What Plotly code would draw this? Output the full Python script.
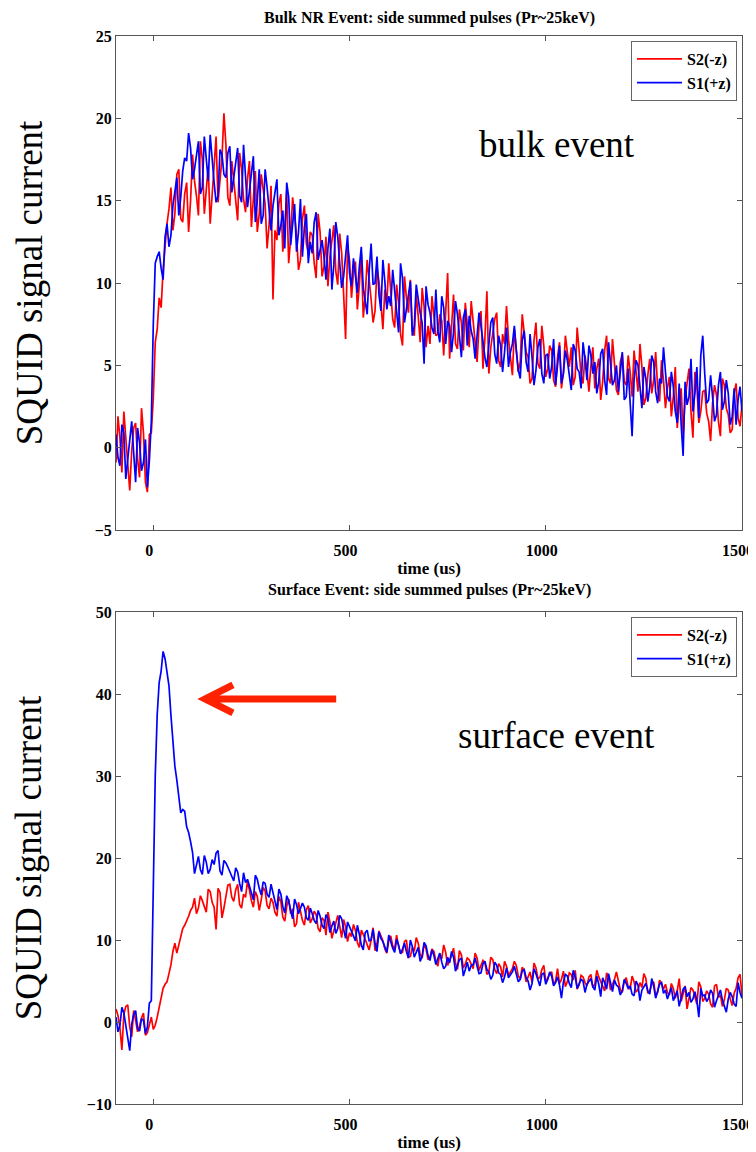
import plotly.graph_objects as go

# ---------------- data ----------------
# sample times (us), one sample every 5 us from -95 to 1500
time_us = list(range(-95, 1501, 5))

# Bulk NR event (top panel)
bulk_s2 = [
    -0.9, 1.9, 0.6, -1.5, 2.2, 0.4, -1.3, -2.6, -0.2, 1.2, 1.5, -0.7, -1.8, 2.4, 0.9, -2.1, -2.7, 0.8, 0.9, 3.0,
    6.4, 7.2, 9.1, 8.5, 10.8, 12.4, 13.6, 14.5, 15.8, 13.2, 14.2, 16.6, 16.9, 13.9, 13.7, 15.4, 16.1, 13.1, 15.0, 17.8,
    16.2, 15.3, 14.1, 18.6, 17.5, 14.2, 15.8, 17.1, 13.6, 15.6, 17.2, 18.9, 14.9, 16.4, 17.6, 20.3, 18.4, 15.2, 14.7, 17.4,
    16.1, 14.6, 13.8, 17.9, 16.9, 15.1, 14.3, 16.3, 17.4, 13.4, 15.2, 16.8, 13.1, 14.2, 16.6, 15.5, 14.8, 12.1, 13.5, 15.9,
    9.0, 13.2, 12.6, 14.8, 15.4, 11.9, 13.3, 15.6, 11.2, 12.7, 15.2, 14.1, 12.9, 10.8, 11.4, 13.9, 14.7, 12.4, 11.8, 13.1,
    12.9, 11.2, 10.3, 14.2, 13.1, 10.4, 11.0, 12.8, 9.8, 11.6, 12.4, 13.5, 10.7, 9.9, 13.0, 11.8, 9.3, 6.6, 12.2, 11.4,
    9.1, 10.6, 11.3, 8.4, 9.9, 11.8, 7.9, 9.2, 11.4, 10.3, 9.0, 7.6, 8.3, 10.9, 10.1, 8.8, 7.2, 9.6, 8.7, 11.2,
    9.4, 7.8, 7.3, 9.9, 8.8, 6.9, 6.2, 10.4, 9.1, 8.2, 10.2, 7.1, 6.8, 9.3, 8.0, 6.4, 9.7, 8.6, 6.1, 7.4,
    6.3, 9.2, 8.0, 6.8, 6.9, 8.1, 7.7, 5.6, 8.2, 10.6, 5.4, 7.2, 9.3, 6.3, 6.0, 8.4, 7.6, 5.9, 8.8, 7.5,
    6.1, 8.9, 7.7, 6.2, 5.2, 7.4, 8.3, 4.8, 6.7, 9.5, 4.5, 6.1, 7.0, 7.8, 8.2, 5.3, 4.9, 6.9, 6.3, 8.6,
    6.6, 5.4, 4.4, 7.2, 6.0, 4.6, 5.2, 8.1, 7.0, 5.8, 5.5, 3.9, 4.2, 6.5, 7.6, 5.1, 4.8, 7.4, 6.2, 4.3,
    4.8, 6.2, 5.9, 4.1, 3.7, 5.5, 6.4, 3.6, 4.6, 6.8, 5.8, 4.9, 6.1, 3.8, 4.3, 7.3, 5.9, 4.4, 3.9, 5.6,
    4.7, 3.4, 5.0, 6.1, 3.6, 4.8, 5.4, 2.9, 4.0, 5.9, 6.8, 4.2, 3.9, 6.6, 5.1, 3.5, 3.2, 5.2, 5.7, 4.0,
    3.8, 5.6, 4.6, 3.1, 5.9, 4.7, 3.4, 6.3, 4.9, 2.6, 3.0, 4.4, 5.4, 3.3, 4.1, 5.8, 3.7, 2.8, 5.3, 4.1,
    2.4, 3.6, 4.3, 1.9, 3.1, 4.9, 1.2, 2.7, 3.6, 0.8, 2.9, 3.9, 4.8, 2.2, 0.6, 4.6, 3.7, 1.5, 2.2, 3.4,
    3.5, 2.1, 1.6, 0.4, 2.7, 3.8, 3.2, 1.6, 0.7, 4.2, 3.8, 2.4, 2.0, 0.9, 1.1, 3.3, 3.9, 1.8, 1.3, 2.6,
]
bulk_s1 = [
    0.8, -0.6, -1.1, 1.4, 0.9, -1.9, -0.7, 0.7, 1.6, -0.3, -2.1, 1.2, 0.3, -1.4, -0.9, 0.5, -2.4, -0.8, 1.6, 7.5,
    11.2, 11.6, 11.9, 10.9, 10.2, 12.8, 13.6, 12.2, 12.9, 14.7, 15.7, 16.4, 14.1, 15.2, 16.8, 17.6, 17.4, 19.1, 18.2, 16.3,
    16.9, 17.8, 18.6, 15.4, 15.8, 18.9, 17.5, 16.2, 19.0, 17.3, 16.1, 14.9, 15.3, 18.1, 17.8, 16.6, 16.4, 17.9, 18.3, 15.5,
    16.4, 17.2, 18.2, 15.3, 14.9, 18.4, 16.8, 14.6, 15.6, 16.5, 17.7, 13.7, 15.0, 16.9, 13.6, 14.1, 16.9, 15.8, 14.4, 13.2,
    14.7, 15.6, 16.3, 12.9, 13.5, 14.4, 12.1, 16.1, 15.2, 12.3, 13.8, 14.8, 11.9, 13.1, 15.1, 11.6, 13.4, 14.2, 11.2, 12.5,
    11.8, 13.7, 14.3, 11.4, 12.0, 12.6, 11.6, 10.2, 12.1, 13.3, 9.6, 11.1, 13.7, 12.8, 11.2, 9.7, 10.4, 11.9, 12.9, 10.6,
    9.8, 11.5, 10.6, 9.4, 11.0, 12.2, 9.7, 8.8, 8.1, 10.7, 12.4, 9.9, 10.0, 11.6, 9.3, 8.3, 11.4, 10.1, 8.4, 9.2,
    8.6, 10.8, 9.5, 8.1, 7.0, 11.2, 10.3, 7.6, 8.4, 9.4, 10.1, 6.8, 7.4, 9.9, 9.0, 8.2, 7.6, 5.1, 9.8, 8.7,
    8.2, 7.3, 6.9, 9.6, 7.1, 6.4, 9.2, 8.5, 6.3, 7.7, 7.4, 5.8, 7.0, 8.9, 8.1, 6.6, 5.5, 7.9, 8.4, 6.2,
    8.0, 7.1, 6.6, 5.4, 6.9, 8.2, 7.4, 6.3, 5.5, 4.9, 6.5, 7.6, 7.9, 5.7, 5.1, 6.8, 6.2, 4.6, 5.8, 7.3,
    4.9, 5.8, 6.3, 7.4, 5.9, 4.7, 4.2, 6.5, 7.1, 5.2, 4.6, 6.9, 5.5, 3.8, 4.7, 6.1, 6.6, 4.5, 3.9, 5.6,
    5.7, 4.2, 4.9, 6.6, 3.8, 5.1, 6.2, 3.9, 4.5, 5.9, 5.3, 4.4, 3.5, 6.3, 5.9, 4.8, 4.6, 3.6, 6.4, 5.4,
    4.1, 6.2, 5.6, 4.5, 5.2, 3.3, 4.0, 5.7, 6.0, 4.1, 3.2, 6.4, 5.1, 3.8, 4.1, 5.0, 3.4, 4.6, 5.8, 2.9,
    3.1, 4.8, 2.9, 0.7, 4.1, 5.3, 5.0, 3.6, 2.4, 4.9, 4.2, 2.8, 3.7, 5.6, 5.2, 3.4, 2.7, 4.2, 3.9, 6.1,
    4.4, 3.1, 2.8, 4.6, 3.7, 2.2, 1.5, 3.9, 1.4, -0.5, 4.0, 2.6, 3.1, 5.4, 2.2, 3.3, 4.9, 1.8, 5.6, 6.8,
    4.5, 2.7, 2.9, 4.4, 3.1, 1.6, 2.0, 3.8, 4.6, 2.3, 2.8, 4.1, 3.3, 1.4, 1.9, 3.6, 1.4, 2.9, 3.7, 2.2,
]

# Surface event (bottom panel)
surf_s2 = [
    1.6, 0.8, -0.7, -3.4, 0.9, 1.9, 2.1, -0.6, -1.8, 1.4, 0.2, -1.2, -0.5, 0.5, 1.1, -1.6, -1.3, -0.4, 0.6, -0.9,
    -0.4, 0.6, 1.8, 3.2, 4.1, 4.6, 4.9, 5.9, 7.0, 8.6, 9.6, 8.4, 9.5, 10.7, 11.4, 11.8, 12.3, 12.9, 13.6, 14.0,
    15.1, 13.2, 13.9, 15.4, 14.8, 14.1, 13.4, 16.2, 15.9, 14.6, 14.0, 11.3, 16.3, 15.8, 12.7, 13.9, 15.4, 16.7, 16.8, 15.2,
    14.7, 16.1, 16.8, 14.3, 13.9, 15.6, 15.2, 17.2, 16.1, 14.8, 14.0, 15.9, 15.3, 13.6, 14.9, 16.4, 16.0, 14.2, 13.8, 15.1,
    14.6, 13.4, 12.9, 15.3, 14.7, 12.8, 12.3, 14.1, 15.0, 13.2, 13.8, 11.6, 12.0, 14.6, 13.5, 12.4, 11.8, 13.7, 14.2, 12.1,
    12.6, 13.5, 13.1, 11.4, 11.0, 12.7, 12.4, 10.6, 13.4, 12.2, 10.2, 11.1, 12.1, 13.0, 11.7, 10.3, 12.5, 11.6, 9.8, 10.9,
    10.4, 11.9, 11.2, 9.7, 9.1, 11.2, 10.7, 10.1, 9.6, 8.8, 10.0, 11.5, 8.7, 9.6, 11.1, 10.4, 9.9, 8.9, 8.4, 9.9,
    10.5, 9.3, 8.9, 10.6, 9.2, 8.4, 8.5, 9.8, 10.0, 7.9, 8.0, 9.1, 8.6, 10.3, 9.6, 8.2, 7.8, 9.5, 8.9, 7.6,
    7.9, 8.9, 8.6, 7.4, 6.8, 8.3, 7.7, 9.4, 8.5, 6.9, 7.4, 8.1, 9.0, 7.2, 6.4, 8.7, 8.2, 6.6, 7.1, 7.8,
    7.6, 7.0, 6.5, 8.4, 7.8, 6.3, 6.9, 7.5, 7.2, 5.8, 6.1, 7.9, 7.6, 6.4, 5.9, 7.1, 6.7, 5.5, 7.4, 6.8,
    5.7, 6.2, 6.5, 7.4, 6.9, 5.6, 5.3, 6.7, 6.2, 4.9, 5.6, 6.1, 4.8, 7.2, 6.6, 5.3, 5.4, 6.4, 6.9, 5.0,
    5.3, 5.9, 6.1, 4.6, 5.0, 6.5, 4.7, 5.2, 6.2, 4.3, 4.9, 6.0, 5.8, 5.1, 6.3, 4.0, 4.5, 5.7, 5.5, 4.8,
    4.4, 5.5, 5.8, 4.2, 4.6, 6.3, 5.5, 4.9, 4.5, 3.8, 6.0, 5.4, 3.9, 4.5, 5.2, 6.1, 4.8, 3.9, 3.6, 5.0,
    5.4, 4.3, 4.0, 5.6, 4.9, 3.7, 3.9, 4.8, 4.2, 5.9, 5.3, 3.5, 3.8, 4.6, 4.9, 3.2, 3.6, 5.1, 4.7, 4.0,
    4.6, 3.6, 3.3, 4.7, 4.1, 2.9, 3.8, 5.3, 2.5, 3.4, 4.4, 1.6, 2.7, 4.2, 3.9, 3.1, 2.2, 4.9, 4.3, 2.5,
    2.9, 3.8, 3.4, 2.2, 1.8, 4.4, 4.6, 3.0, 3.3, 1.9, 2.7, 4.1, 3.9, 2.8, 2.0, 3.5, 4.1, 5.4, 5.8, 3.2,
]
surf_s1 = [
    0.6, -1.2, -0.4, 1.8, 1.1, -0.5, -1.9, -3.5, -0.3, 0.9, 1.4, -0.8, -1.1, 0.4, 0.2, -1.4, -0.6, 2.3, 2.6, 17.0,
    30.0, 37.5, 41.4, 42.8, 45.2, 44.3, 42.6, 41.0, 37.4, 34.0, 31.2, 29.5, 27.6, 25.5, 25.9, 25.7, 23.8, 23.1, 22.0, 20.7,
    18.1, 19.4, 20.2, 18.6, 18.0, 20.3, 19.5, 18.1, 18.6, 19.8, 19.2, 20.6, 20.9, 18.4, 17.9, 19.7, 19.4, 18.9, 18.3, 17.6,
    17.2, 18.8, 18.3, 16.9, 15.9, 18.2, 17.0, 17.4, 16.6, 15.8, 14.9, 17.9, 17.4, 16.3, 15.5, 17.1, 16.9, 15.6, 15.2, 16.8,
    15.8, 14.9, 13.7, 16.2, 15.6, 14.1, 13.3, 15.4, 14.8, 13.6, 12.6, 15.0, 14.3, 13.2, 13.8, 14.5, 14.0, 12.7, 12.4, 13.9,
    13.2, 12.4, 12.0, 13.6, 12.9, 11.8, 11.4, 13.1, 12.6, 10.9, 11.7, 12.3, 10.8, 11.4, 13.0, 12.6, 11.3, 10.2, 12.2, 11.7,
    11.1, 10.5, 9.9, 11.8, 10.7, 9.4, 8.8, 10.9, 11.2, 9.9, 10.0, 11.3, 9.6, 8.6, 11.0, 10.2, 9.8, 9.1, 8.5, 10.6,
    9.7, 9.0, 8.5, 10.1, 9.4, 8.3, 8.9, 9.6, 8.6, 7.8, 10.0, 9.2, 7.9, 8.5, 9.1, 7.4, 8.0, 9.7, 9.3, 8.1,
    7.5, 8.8, 8.1, 7.0, 7.7, 8.4, 7.3, 6.5, 6.8, 7.9, 7.2, 8.6, 7.9, 6.2, 6.9, 7.6, 7.8, 5.6, 6.4, 7.3,
    6.2, 6.9, 7.0, 7.8, 6.8, 5.9, 6.0, 7.1, 7.4, 6.4, 6.1, 5.2, 5.7, 7.3, 6.9, 6.0, 5.8, 4.8, 5.5, 6.6,
    5.4, 5.7, 6.1, 6.8, 5.8, 4.9, 5.2, 6.2, 6.4, 5.4, 5.0, 3.9, 4.7, 6.5, 5.9, 5.1, 4.4, 5.8, 6.0, 4.6,
    5.2, 6.1, 5.6, 4.4, 4.8, 5.5, 4.5, 2.9, 4.9, 5.8, 5.6, 4.7, 4.2, 6.3, 5.5, 4.1, 4.7, 5.2, 5.0, 3.6,
    4.6, 5.0, 5.3, 4.3, 3.9, 5.6, 4.6, 3.1, 5.4, 4.8, 4.0, 5.9, 4.8, 3.7, 5.1, 4.5, 4.3, 3.3, 3.8, 5.2,
    4.7, 4.1, 4.4, 3.4, 3.2, 5.0, 4.5, 2.6, 3.9, 4.4, 4.7, 3.8, 3.4, 5.3, 4.4, 2.9, 3.9, 4.6, 4.8, 3.5,
    3.9, 2.8, 3.5, 4.2, 2.6, 3.3, 3.8, 1.9, 2.9, 4.0, 4.3, 3.1, 3.6, 2.4, 2.8, 3.7, 2.6, 0.6, 4.1, 3.2,
    3.3, 2.5, 2.9, 3.9, 3.5, 1.8, 2.6, 3.4, 3.9, 2.7, 2.0, 1.2, 2.8, 3.6, 3.1, 2.2, 1.9, 4.8, 3.6, 2.9,
]

series_names = ["S2(-z)", "S1(+z)"]
series_colors = ["#ff0000", "#0000ff"]
x_ticks = [0, 500, 1000, 1500]
top_y_ticks = [-5, 0, 5, 10, 15, 20, 25]
bot_y_ticks = [-10, 0, 10, 20, 30, 40, 50]

# ---------------- figure ----------------
SERIF = "Liberation Serif, Times New Roman, serif"
PAGE_OFFSET = 8          # default <body> margin of the html page
W, H = 756 - PAGE_OFFSET, 1152 - PAGE_OFFSET

fig = go.Figure()
panels = [
    ("x", "y", "legend", [bulk_s2, bulk_s1]),
    ("x2", "y2", "legend2", [surf_s2, surf_s1]),
]
for xa, ya, lg, ys in panels:
    for name, col, yv in zip(series_names, series_colors, ys):
        fig.add_trace(go.Scatter(
            x=time_us, y=yv, mode="lines", name=name,
            line=dict(color=col, width=1.7),
            xaxis=xa, yaxis=ya, legend=lg,
        ))

def px_x(p):
    return (p - PAGE_OFFSET) / W

def px_y(p):
    return 1 - (p - PAGE_OFFSET) / H

axis_common = dict(
    showline=True, linecolor="#555555", linewidth=1, mirror="ticks",
    ticks="inside", ticklen=5, tickcolor="#555555",
    showgrid=False, zeroline=False, automargin=False,
    ticklabeloverflow="allow",
    tickfont=dict(family=SERIF, size=16, color="black", weight="bold"),
)

xtitle = dict(text="time (us)", standoff=3,
              font=dict(family=SERIF, size=17, weight="bold"))
ytitle = dict(text="SQUID signal current", standoff=40,
              font=dict(family=SERIF, size=37))

xdom = [px_x(116), px_x(742)]
x_axis_extra = dict(range=[-95, 1500], tickvals=x_ticks, ticklabelstandoff=6,
                    ticklabelshift=-4, title=xtitle)
legend_style = dict(xanchor="right", yanchor="top",
                    bgcolor="white", bordercolor="#666666", borderwidth=1,
                    font=dict(family=SERIF, size=16, weight="bold"),
                    itemwidth=45, tracegroupgap=0)
fig.update_layout(
    width=W, height=H,
    margin=dict(l=0, r=0, t=0, b=0),
    paper_bgcolor="white", plot_bgcolor="white",
    font=dict(family=SERIF, color="black"),
    xaxis=dict(domain=xdom, anchor="y", **x_axis_extra, **axis_common),
    yaxis=dict(domain=[px_y(530), px_y(36)], anchor="x", range=[-5, 25],
               tickvals=top_y_ticks, title=ytitle, **axis_common),
    xaxis2=dict(domain=xdom, anchor="y2", **x_axis_extra, **axis_common),
    yaxis2=dict(domain=[px_y(1104), px_y(612)], anchor="x2", range=[-10, 50],
                tickvals=bot_y_ticks, title=ytitle, **axis_common),
    legend=dict(x=px_x(737), y=px_y(41), **legend_style),
    legend2=dict(x=px_x(737), y=px_y(617), **legend_style),
    showlegend=True,
)

# panel titles
title_font = dict(family=SERIF, size=16, weight="bold")
fig.add_annotation(text="Bulk NR Event: side summed pulses (Pr~25keV)",
                   xref="paper", yref="paper", x=px_x(429), y=1.0,
                   showarrow=False, xanchor="center", yanchor="top",
                   borderpad=0, font=title_font)
fig.add_annotation(text="Surface Event: side summed pulses (Pr~25keV)",
                   xref="paper", yref="paper", x=px_x(429), y=px_y(590),
                   showarrow=False, xanchor="center", yanchor="middle",
                   borderpad=0, font=title_font)

# in-plot labels
fig.add_annotation(text="bulk event", xref="x", yref="y", x=1028, y=18.4,
                   showarrow=False, font=dict(family=SERIF, size=37))
fig.add_annotation(text="surface event", xref="x2", yref="y2", x=1028, y=35,
                   showarrow=False, font=dict(family=SERIF, size=37))

# red arrow pointing at the S1 surface peak
fig.add_shape(type="path", xref="x2", yref="y2",
              path="M 466,39.4 L 136,39.4 M 203,41.1 L 132,39.4 L 203,37.7",
              line=dict(color="#ff2200", width=7))

fig.write_html("out.html")
